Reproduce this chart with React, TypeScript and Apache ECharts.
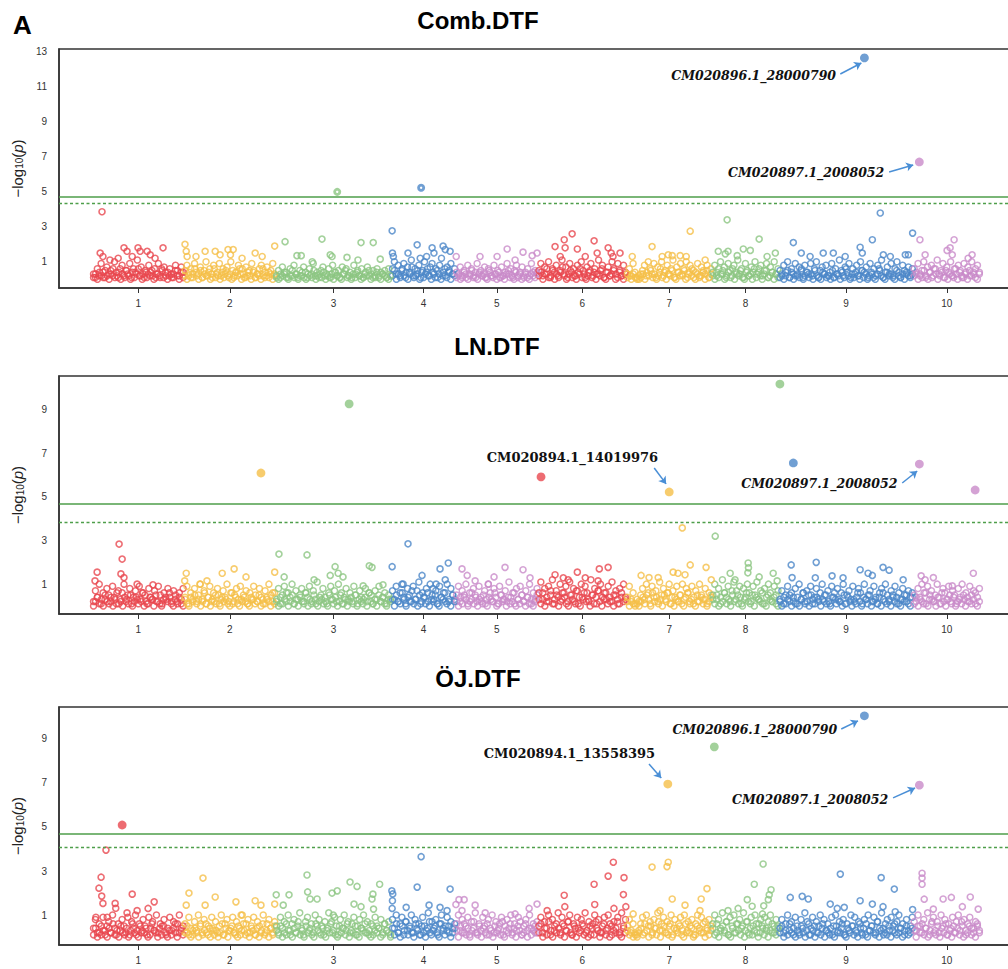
import React, { useEffect, useRef } from "react";
import * as echarts from "echarts";

// ---------- categories ----------
const chromosomes = ["1", "2", "3", "4", "5", "6", "7", "8", "9", "10"];
const chrLengthsMb = [30, 30, 38, 21, 27, 29, 28, 22, 44, 22];
const chrColors = ["#E8474F", "#F5BF48", "#8CC582", "#4C87C8", "#C98BC9", "#E8474F", "#F5BF48", "#8CC582", "#4C87C8", "#C98BC9"];

const panelTitles = ["Comb.DTF", "LN.DTF", "ÖJ.DTF"];
const significanceLine = 4.7;
const suggestiveLines = [4.37, 3.85, 4.09];
const yTickLabels = [[1, 3, 5, 7, 9, 11, 13], [1, 3, 5, 7, 9], [1, 3, 5, 7, 9]];

// ---------- Comb.DTF ----------
// dense low band: -log10(p) per chromosome, SNPs spread along the chromosome
const combBand = [
  [0.3,0.1,0.6,0.2,0.9,0.4,0.1,0.7,0.3,0.5,0.2,1.0,0.4,0.1,0.6,0.8,0.2,0.5,0.3,0.9,0.1,0.6,0.4,1.1,0.2,0.7,0.3,0.5,0.1,0.8,0.4,0.2,0.6,0.3,0.9,0.1,0.5,0.7,0.2,0.4,0.6,0.1,0.3,0.8,0.5,0.2,0.7,0.4],
  [0.5,0.8,0.2,0.6,0.1,0.9,0.4,0.3,0.7,0.1,0.5,1.0,0.2,0.6,0.3,0.8,0.1,0.4,0.9,0.2,0.6,0.3,0.7,0.1,1.0,0.5,0.2,0.4,0.8,0.3,0.6,0.1,0.7,0.4,0.2,0.9,0.5,0.1,0.3,0.6,0.8,0.2,0.4,0.7,0.1,0.5,0.9,0.3],
  [0.2,0.5,0.1,0.7,0.3,0.4,0.1,0.6,0.2,0.8,0.3,0.1,0.5,0.2,0.7,0.4,0.1,0.6,0.3,0.9,0.2,0.4,0.1,0.5,0.7,0.2,0.3,0.6,0.1,0.8,0.4,0.2,0.5,0.1,0.7,0.3,0.6,0.2,0.4,0.1,0.8,0.3,0.5,0.2,0.6,0.1,0.4,0.7,0.2,0.3,0.5,0.1,0.6,0.2,0.4,0.3,0.5,0.1,0.6,0.2],
  [0.6,1.0,0.3,0.8,0.2,0.5,0.9,0.1,0.7,0.4,1.1,0.2,0.6,0.3,0.8,0.1,0.5,1.0,0.4,0.2,0.7,0.9,0.3,0.6,0.1,0.8,1.2,0.4,0.2,0.7,0.5,0.9,0.3,0.6],
  [0.4,0.2,0.7,0.1,0.5,0.3,0.8,0.2,0.6,0.1,0.4,0.9,0.3,0.5,0.2,0.7,0.1,0.6,0.4,0.2,0.8,0.3,0.5,0.1,0.7,0.2,0.4,0.9,0.3,0.6,0.1,0.5,0.8,0.2,0.4,0.7,0.1,0.3,0.6,0.2,0.9,0.4,0.5,0.3],
  [0.5,0.9,0.2,0.7,0.3,1.0,0.1,0.6,0.4,0.8,0.2,0.5,1.1,0.3,0.7,0.1,0.9,0.4,0.6,0.2,0.8,0.3,1.0,0.5,0.1,0.7,0.4,0.9,0.2,0.6,0.3,1.1,0.5,0.8,0.1,0.4,0.7,0.2,1.0,0.6,0.3,0.9,0.5,0.2,0.8,0.4],
  [0.3,0.6,0.2,0.9,0.4,0.1,0.2,0.3,0.5,0.8,0.2,1.0,0.6,0.3,0.9,0.1,0.7,0.4,1.0,0.2,0.5,0.8,0.3,0.6,1.1,0.1,0.7,0.4,0.9,0.2,0.5,1.0,0.3,0.8,0.6,0.1,0.4,0.9,0.2,0.7,0.5,0.3,0.8,0.1,0.6],
  [0.4,0.8,0.2,0.6,1.0,0.3,0.7,0.1,0.9,0.5,0.2,0.8,0.4,1.1,0.3,0.6,0.1,0.9,0.5,0.2,0.7,0.4,1.0,0.3,0.6,0.8,0.2,0.5,0.9,0.1,0.7,0.4,1.0,0.3,0.6],
  [0.5,0.2,0.8,0.4,1.0,0.1,0.6,0.3,0.9,0.2,0.7,0.5,0.1,0.8,0.4,0.3,0.9,0.2,0.6,1.0,0.1,0.5,0.7,0.3,0.8,0.2,0.4,0.9,0.1,0.6,0.3,1.1,0.5,0.2,0.7,0.4,0.9,0.1,0.6,0.3,0.8,0.2,1.0,0.5,0.4,0.7,0.1,0.9,0.3,0.6,0.2,0.8,0.5,1.1,0.1,0.4,0.7,0.3,0.9,0.2,0.6,1.0,0.4,0.1,0.8,0.5,0.3,0.7,0.2,0.6],
  [0.6,0.3,0.9,0.2,0.5,1.0,0.1,0.7,0.4,0.8,0.2,0.6,1.1,0.3,0.5,0.9,0.1,0.7,0.4,1.0,0.2,0.6,0.3,0.8,0.5,0.1,0.9,0.4,0.7,0.2,1.0,0.3,0.6,0.8,0.4],
];
const combBandLow = [
  [0.1,0.3,0.0,0.4,0.2,0.1,0.5,0.2,0.0,0.3,0.6,0.1,0.2,0.4,0.0,0.3,0.1,0.5,0.2,0.0,0.4,0.1,0.3,0.6,0.2,0.0,0.1,0.4,0.3,0.2,0.5,0.0,0.1,0.3,0.2,0.6,0.1,0.4,0.0,0.2,0.3,0.1,0.5,0.2,0.0,0.4,0.1],
  [0.2,0.0,0.4,0.1,0.3,0.6,0.2,0.0,0.5,0.1,0.3,0.2,0.4,0.0,0.1,0.6,0.3,0.2,0.0,0.4,0.1,0.5,0.2,0.3,0.0,0.1,0.4,0.2,0.6,0.0,0.3,0.1,0.2,0.5,0.0,0.4,0.1,0.3,0.2,0.0,0.6,0.1,0.2,0.4,0.3,0.0,0.2],
  [0.1,0.0,0.3,0.2,0.4,0.1,0.0,0.2,0.5,0.1,0.3,0.0,0.2,0.4,0.1,0.0,0.3,0.2,0.1,0.5,0.0,0.2,0.3,0.1,0.4,0.0,0.2,0.1,0.3,0.0,0.4,0.2,0.1,0.0,0.3,0.5,0.1,0.2,0.0,0.3,0.1,0.4,0.2,0.0,0.1,0.3,0.2,0.5,0.0,0.1,0.2,0.4,0.1,0.0,0.3,0.2,0.1,0.0,0.2],
  [0.2,0.5,0.0,0.3,0.1,0.6,0.2,0.4,0.0,0.3,0.7,0.1,0.2,0.5,0.0,0.4,0.1,0.3,0.6,0.2,0.0,0.4,0.1,0.5,0.3,0.0,0.2,0.6,0.1,0.4,0.0,0.3,0.2],
  [0.1,0.3,0.0,0.2,0.4,0.1,0.0,0.3,0.5,0.2,0.1,0.0,0.4,0.2,0.3,0.1,0.0,0.5,0.2,0.1,0.3,0.0,0.4,0.1,0.2,0.0,0.3,0.5,0.1,0.2,0.0,0.4,0.1,0.3,0.0,0.2,0.4,0.1,0.0,0.3,0.2,0.1,0.4],
  [0.2,0.4,0.0,0.3,0.6,0.1,0.2,0.5,0.0,0.3,0.1,0.4,0.7,0.2,0.0,0.3,0.5,0.1,0.2,0.0,0.4,0.6,0.1,0.3,0.0,0.2,0.5,0.1,0.4,0.0,0.3,0.2,0.6,0.1,0.0,0.4,0.2,0.3,0.5,0.0,0.1,0.4,0.2,0.0,0.3],
  [0.1,0.2,0.0,0.3,0.1,0.0,0.0,0.1,0.3,0.0,0.4,0.2,0.5,0.1,0.3,0.0,0.2,0.6,0.1,0.4,0.0,0.3,0.2,0.5,0.1,0.0,0.4,0.2,0.3,0.6,0.0,0.1,0.4,0.2,0.5,0.0,0.3,0.1,0.2,0.4,0.0,0.5,0.1,0.3],
  [0.2,0.0,0.4,0.1,0.3,0.5,0.0,0.2,0.4,0.1,0.6,0.0,0.3,0.2,0.5,0.1,0.0,0.4,0.2,0.3,0.0,0.6,0.1,0.4,0.2,0.0,0.3,0.5,0.1,0.2,0.4,0.0,0.3,0.1],
  [0.1,0.3,0.0,0.2,0.5,0.1,0.4,0.0,0.2,0.3,0.1,0.6,0.0,0.2,0.4,0.1,0.3,0.0,0.5,0.2,0.1,0.0,0.4,0.3,0.1,0.2,0.0,0.5,0.1,0.3,0.2,0.0,0.4,0.1,0.6,0.2,0.0,0.3,0.1,0.4,0.2,0.0,0.5,0.1,0.3,0.0,0.2,0.4,0.1,0.0,0.3,0.6,0.2,0.1,0.0,0.4,0.2,0.3,0.1,0.0,0.5,0.2,0.1,0.3,0.0,0.4,0.2,0.1,0.3],
  [0.2,0.4,0.0,0.3,0.1,0.5,0.2,0.0,0.4,0.1,0.6,0.3,0.0,0.2,0.4,0.1,0.5,0.0,0.3,0.2,0.1,0.6,0.0,0.4,0.2,0.1,0.3,0.0,0.5,0.2,0.4,0.1,0.0,0.3],
];
// [chromosome, position (Mb), -log10(p)]
const combPeaks = [
  [1,2.5,1.5],[1,3.1,3.86],[1,3.4,1.3],[1,5.7,1.1],[1,8.4,1.2],[1,10.3,1.8],[1,11.3,1.6],[1,13.0,1.3],[1,14.9,1.8],[1,15.6,1.6],[1,17.9,1.6],[1,18.9,1.4],[1,20.5,1.2],[1,23.1,1.8],
  [2,0.3,2.0],[2,0.7,1.6],[2,1.0,1.3],[2,3.9,1.3],[2,6.9,1.6],[2,10.2,1.6],[2,11.8,1.4],[2,14.4,1.7],[2,15.2,1.4],[2,16.1,1.7],[2,19.0,1.2],[2,23.3,1.5],[2,25.6,1.3],[2,29.7,1.9],
  [3,3.1,2.15],[3,7.0,1.35],[3,8.4,1.35],[3,12.0,1.0],[3,15.2,2.3],[3,17.9,1.4],[3,18.5,1.3],[3,23.4,1.25],[3,27.0,1.1],[3,28.0,2.1],[3,32.0,2.1],[3,34.3,1.15],
  [4,0.2,2.77],[4,0.3,1.5],[4,0.6,1.3],[4,5.4,1.5],[4,8.4,1.97],[4,9.4,1.2],[4,11.5,1.3],[4,13.3,1.8],[4,13.9,1.5],[4,16.9,1.9],[4,17.6,1.7],[4,19.2,1.6],
  [5,0.2,1.3],[5,8.0,1.3],[5,13.6,1.3],[5,16.9,1.73],[5,19.5,1.1],[5,22.1,1.55],[5,25.1,1.35],[5,26.7,1.5],
  [6,5.6,1.87],[6,7.3,1.3],[6,8.6,2.26],[6,8.9,1.8],[6,11.2,2.6],[6,12.9,1.73],[6,15.5,1.3],[6,18.4,2.2],[6,19.4,1.5],[6,23.0,1.8],[6,24.0,1.5],[6,24.6,1.3],[6,26.9,1.5],
  [7,1.9,1.3],[7,8.4,1.87],[7,11.7,1.3],[7,13.7,1.4],[7,15.0,1.35],[7,17.6,1.35],[7,19.6,1.3],[7,20.9,2.75],[7,25.8,1.1],
  [8,2.1,1.6],[8,4.4,1.45],[8,5.0,3.4],[8,5.3,1.6],[8,8.3,1.35],[8,10.3,1.73],[8,12.6,1.65],[8,15.5,2.3],[8,18.1,1.3],[8,20.8,1.5],
  [9,4.7,2.1],[9,7.3,1.5],[9,10.2,1.3],[9,14.5,1.5],[9,17.8,1.5],[9,21.7,1.3],[9,26.6,1.83],[9,27.3,1.5],[9,30.6,2.26],[9,33.2,3.79],[9,34.2,1.4],[9,36.5,1.3],[9,41.4,1.4],[9,42.4,1.4],[9,43.8,2.64],
  [10,2.2,2.26],[10,3.9,1.4],[10,11.1,1.65],[10,12.1,1.8],[10,12.8,1.4],[10,13.4,2.26],[10,18.0,1.2],[10,19.3,1.4],
];
const combBoldRings = [[3,20.2,5.0],[4,9.7,5.23]];
const combHits = [[9,28.0,12.66],[10,2.0,6.71]];

// ---------- LN.DTF ----------
const lnBand = [
  [0.2,0.7,0.4,1.0,0.1,0.6,0.3,0.8,0.5,0.2,0.9,0.4,0.1,0.7,0.3,0.6,1.0,0.2,0.5,0.8,0.1,0.4,0.7,0.3,0.9,0.2,0.6,0.5,0.1,0.8,0.4,0.3,0.7,0.2,0.9,0.5,0.1,0.6,0.3,0.8,0.4,0.2,0.7,0.5,0.1,0.6,0.3,0.8],
  [0.4,0.9,0.1,0.6,0.3,0.8,0.2,0.5,1.0,0.3,0.7,0.1,0.4,0.9,0.2,0.6,0.5,0.8,0.1,0.3,0.7,0.4,1.0,0.2,0.6,0.1,0.5,0.8,0.3,0.9,0.2,0.4,0.7,0.1,0.6,0.3,0.9,0.5,0.2,0.8,0.4,0.1,0.7,0.3,1.0,0.5,0.2,0.6],
  [0.3,0.8,0.1,0.5,0.9,0.2,0.6,0.4,1.0,0.1,0.7,0.3,0.5,0.8,0.2,0.6,0.4,0.9,0.1,0.7,0.3,1.1,0.2,0.5,0.8,0.4,0.1,0.6,0.9,0.3,0.7,0.2,1.0,0.5,0.1,0.4,0.8,0.3,0.6,0.2,0.9,0.5,0.1,0.7,0.4,0.3,0.8,0.2,0.6,0.5,0.1,0.7,0.3,0.9,0.2,0.4,0.6,0.1,0.5,0.3],
  [0.7,0.3,0.9,0.2,0.6,1.0,0.4,0.1,0.8,0.5,0.2,0.9,0.3,0.7,1.1,0.1,0.6,0.4,0.8,0.2,1.0,0.5,0.3,0.7,0.1,0.9,0.4,0.6,0.2,1.0,0.3,0.8,0.5,0.2],
  [0.5,0.9,0.2,0.7,0.4,1.0,0.1,0.6,0.3,0.8,0.5,0.2,0.9,0.4,0.1,0.7,0.3,1.0,0.6,0.2,0.8,0.4,0.1,0.9,0.5,0.3,0.7,0.2,1.1,0.4,0.6,0.1,0.8,0.3,0.9,0.5,0.2,0.7,0.4,1.0,0.1,0.6,0.3,0.8],
  [0.6,1.1,0.3,0.8,0.2,0.9,0.5,1.2,0.1,0.7,0.4,1.0,0.3,0.6,0.9,0.2,1.1,0.5,0.8,0.1,0.7,0.4,1.0,0.3,0.9,0.6,0.2,1.2,0.5,0.8,0.1,0.7,1.0,0.4,0.6,0.3,0.9,0.2,1.1,0.5,0.7,0.1,0.8,0.4,1.0,0.3],
  [0.4,0.9,0.2,0.6,0.1,0.3,0.2,0.5,0.8,0.3,1.0,0.6,0.1,0.9,0.4,0.7,0.2,1.1,0.5,0.8,0.3,0.6,1.0,0.1,0.7,0.4,0.9,0.2,0.5,1.0,0.3,0.8,0.6,0.1,0.9,0.4,0.7,0.2,1.0,0.5,0.3,0.8,0.1,0.6,0.4],
  [0.5,1.0,0.3,0.8,0.1,1.2,0.6,0.4,0.9,0.2,0.7,1.1,0.3,0.5,0.9,0.1,0.8,0.4,1.0,0.6,0.2,0.9,0.5,1.1,0.3,0.7,0.1,0.8,0.4,1.0,0.6,0.2,0.9,0.5,0.7],
  [0.3,0.7,0.1,0.5,0.9,0.2,0.6,0.4,0.8,0.1,1.0,0.3,0.6,0.2,0.7,0.5,0.9,0.1,0.4,0.8,0.3,0.6,1.0,0.2,0.5,0.7,0.1,0.9,0.4,0.3,0.8,0.2,0.6,1.0,0.1,0.5,0.7,0.3,0.9,0.2,0.4,0.8,0.6,0.1,1.0,0.3,0.5,0.7,0.2,0.9,0.4,0.1,0.6,0.8,0.3,1.0,0.5,0.2,0.7,0.4,0.9,0.1,0.6,0.3,0.8,0.5,0.2,0.7,0.4,0.6],
  [0.5,0.2,0.8,0.4,1.0,0.1,0.6,0.9,0.3,0.7,0.2,0.5,1.0,0.4,0.1,0.8,0.6,0.3,0.9,0.2,0.7,0.5,0.1,0.8,0.4,1.0,0.3,0.6,0.2,0.9,0.5,0.7,0.1,0.4,0.8],
];
const lnBandLow = [
  [0.0,0.2,0.4,0.1,0.3,0.0,0.5,0.2,0.1,0.4,0.0,0.3,0.6,0.1,0.2,0.0,0.4,0.3,0.1,0.5,0.0,0.2,0.4,0.1,0.3,0.6,0.0,0.2,0.1,0.4,0.3,0.0,0.5,0.2,0.1,0.0,0.3,0.4,0.2,0.6,0.1,0.0,0.3,0.2,0.4,0.1,0.0],
  [0.3,0.1,0.0,0.4,0.2,0.5,0.1,0.3,0.0,0.2,0.6,0.1,0.4,0.0,0.3,0.2,0.1,0.5,0.0,0.4,0.2,0.3,0.1,0.0,0.6,0.2,0.4,0.1,0.0,0.3,0.5,0.2,0.1,0.0,0.4,0.3,0.1,0.2,0.5,0.0,0.3,0.1,0.4,0.2,0.0,0.6,0.1],
  [0.2,0.0,0.4,0.1,0.3,0.6,0.0,0.2,0.5,0.1,0.3,0.0,0.4,0.2,0.1,0.6,0.0,0.3,0.2,0.5,0.1,0.0,0.4,0.3,0.1,0.2,0.0,0.5,0.3,0.1,0.4,0.0,0.2,0.6,0.1,0.3,0.0,0.2,0.4,0.1,0.5,0.0,0.3,0.2,0.1,0.4,0.0,0.6,0.2,0.1,0.3,0.0,0.5,0.2,0.4,0.1,0.0,0.3,0.2],
  [0.3,0.0,0.5,0.2,0.1,0.6,0.3,0.0,0.4,0.2,0.7,0.1,0.3,0.0,0.5,0.2,0.4,0.1,0.6,0.0,0.3,0.2,0.5,0.1,0.0,0.4,0.3,0.6,0.1,0.2,0.0,0.5,0.3],
  [0.2,0.0,0.4,0.1,0.5,0.3,0.0,0.2,0.6,0.1,0.4,0.0,0.3,0.2,0.5,0.1,0.0,0.4,0.3,0.2,0.6,0.0,0.1,0.5,0.2,0.3,0.0,0.4,0.1,0.2,0.6,0.0,0.3,0.1,0.5,0.2,0.0,0.4,0.1,0.3,0.0,0.2,0.5],
  [0.3,0.1,0.6,0.0,0.4,0.2,0.7,0.1,0.3,0.5,0.0,0.2,0.6,0.4,0.1,0.0,0.5,0.3,0.2,0.7,0.1,0.0,0.4,0.6,0.2,0.3,0.0,0.5,0.1,0.4,0.7,0.2,0.0,0.3,0.6,0.1,0.4,0.2,0.0,0.5,0.3,0.1,0.6,0.2,0.4],
  [0.2,0.0,0.3,0.1,0.0,0.1,0.0,0.2,0.4,0.1,0.5,0.3,0.0,0.6,0.2,0.4,0.1,0.3,0.0,0.5,0.2,0.6,0.1,0.4,0.0,0.3,0.2,0.5,0.1,0.0,0.4,0.6,0.2,0.3,0.1,0.0,0.5,0.2,0.4,0.1,0.3,0.0,0.2,0.5],
  [0.3,0.1,0.5,0.0,0.4,0.2,0.6,0.1,0.3,0.0,0.5,0.2,0.7,0.1,0.4,0.0,0.3,0.6,0.2,0.1,0.5,0.0,0.4,0.3,0.2,0.6,0.1,0.0,0.5,0.3,0.2,0.4,0.1,0.0],
  [0.2,0.0,0.4,0.1,0.3,0.5,0.0,0.2,0.1,0.4,0.0,0.3,0.6,0.1,0.2,0.0,0.5,0.3,0.1,0.4,0.2,0.0,0.3,0.5,0.1,0.2,0.0,0.4,0.6,0.1,0.3,0.2,0.0,0.5,0.1,0.4,0.2,0.0,0.3,0.1,0.6,0.2,0.0,0.4,0.3,0.1,0.5,0.0,0.2,0.3,0.1,0.4,0.0,0.6,0.2,0.1,0.3,0.0,0.5,0.2,0.4,0.1,0.0,0.3,0.2,0.5,0.1,0.0,0.4],
  [0.1,0.4,0.0,0.3,0.2,0.6,0.1,0.0,0.5,0.3,0.2,0.0,0.4,0.1,0.6,0.2,0.0,0.3,0.5,0.1,0.4,0.0,0.2,0.3,0.1,0.5,0.0,0.4,0.2,0.1,0.3,0.6,0.0,0.2],
];
const lnPeaks = [
  [1,0.8,1.15],[1,1.5,1.55],[1,8.7,2.84],[1,9.3,1.47],[1,9.7,2.15],[1,10.3,1.3],[1,14.6,1.0],[1,19.8,0.97],
  [2,0.2,1.15],[2,0.7,1.5],[2,5.2,1.0],[2,7.5,1.15],[2,12.5,1.5],[2,16.4,1.7],[2,20.3,1.33],[2,29.7,1.55],
  [3,1.1,2.38],[3,2.8,1.33],[3,10.3,2.34],[3,12.6,1.2],[3,17.9,1.4],[3,19.5,1.8],[3,20.5,1.5],[3,22.1,1.33],[3,28.7,0.92],[3,30.7,1.84],[3,31.6,1.77],[3,35.2,0.97],
  [4,0.2,1.8],[4,3.8,1.0],[4,5.4,2.85],[4,10.0,1.4],[4,13.6,0.8],[4,14.6,1.0],[4,15.9,1.7],[4,17.6,1.2],[4,18.6,1.97],
  [5,2.1,1.7],[5,3.8,1.4],[5,6.4,1.15],[5,10.7,1.0],[5,12.6,1.33],[5,16.2,1.77],[5,22.1,1.66],[5,24.4,1.29],
  [6,5.6,1.43],[6,8.3,1.29],[6,9.9,1.2],[6,12.9,1.55],[6,15.5,1.29],[6,19.7,1.15],[6,20.1,1.7],[6,23.0,1.77],
  [7,4.8,1.4],[7,7.4,1.3],[7,10.4,1.3],[7,15.3,1.55],[7,16.9,1.5],[7,18.3,3.58],[7,19.2,1.43],[7,20.9,1.88],[7,26.1,1.77],[7,27.8,1.2],
  [8,1.1,3.2],[8,6.0,1.5],[8,7.6,1.2],[8,11.8,1.52],[8,11.9,1.97],[8,12.0,1.75],[8,15.5,1.33],[8,20.1,1.5],[8,21.4,1.15],
  [9,4.0,1.88],[9,4.3,1.3],[9,11.9,1.29],[9,12.2,2.0],[9,17.4,1.38],[9,21.0,1.29],[9,26.6,1.66],[9,29.2,1.5],[9,30.6,1.4],[9,34.1,1.77],[9,36.1,1.64],[9,40.7,1.2],
  [10,2.6,1.38],[10,3.9,1.2],[10,6.6,1.3],[10,12.8,0.92],[10,19.7,1.5],
];
const lnHits = [[2,25.2,6.1],[3,24.1,9.27],[6,1.0,5.92],[7,14.02,5.23],[8,22.3,10.18],[9,4.7,6.56],[10,2.01,6.51],[10,20.3,5.32]];

// ---------- ÖJ.DTF ----------
const ojBand = [
  [0.4,0.8,0.2,0.6,0.1,0.9,0.3,0.5,0.7,0.2,1.0,0.4,0.1,0.6,0.3,0.8,0.5,0.2,0.9,0.1,0.7,0.4,1.0,0.3,0.6,0.2,0.8,0.5,0.1,0.9,0.4,0.7,0.3,1.0,0.2,0.6,0.5,0.8,0.1,0.4,0.9,0.3,0.7,0.2,0.6,1.0,0.4,0.5],
  [0.6,0.2,0.9,0.4,0.1,0.7,0.3,1.0,0.5,0.2,0.8,0.6,0.1,0.4,0.9,0.3,0.7,0.2,0.5,1.0,0.1,0.6,0.8,0.3,0.4,0.9,0.2,0.7,0.5,0.1,1.0,0.3,0.6,0.8,0.2,0.4,0.9,0.1,0.7,0.5,0.3,1.0,0.2,0.6,0.8,0.4,0.1,0.7],
  [0.5,0.2,0.9,0.4,0.7,0.1,1.0,0.3,0.6,0.8,0.2,0.5,1.1,0.4,0.1,0.7,0.9,0.3,0.6,0.2,1.0,0.5,0.8,0.1,0.4,0.7,0.3,1.1,0.6,0.2,0.9,0.5,0.1,0.8,0.4,1.0,0.3,0.7,0.2,0.6,0.9,0.1,0.5,0.8,0.4,1.0,0.2,0.7,0.3,0.6,0.1,0.9,0.5,0.4,0.8,0.2,0.6,0.3,0.7,0.1],
  [0.8,0.4,1.0,0.2,0.6,0.9,0.1,0.7,0.3,0.5,1.0,0.2,0.8,0.4,0.6,0.1,0.9,0.5,0.3,1.1,0.2,0.7,0.4,0.8,0.1,0.6,1.0,0.3,0.5,0.9,0.2,0.7,0.4,0.6],
  [0.6,1.0,0.3,0.8,0.2,0.5,0.9,0.1,0.7,0.4,1.1,0.2,0.6,0.3,0.9,0.5,0.1,0.8,0.4,1.0,0.2,0.7,0.3,0.6,0.9,0.1,0.5,0.8,0.4,1.0,0.2,0.6,0.3,0.9,0.7,0.1,0.5,0.8,0.3,1.0,0.4,0.6,0.2,0.7],
  [0.5,0.9,0.2,0.7,0.4,1.0,0.1,0.8,0.3,0.6,1.1,0.2,0.9,0.5,0.3,0.7,1.0,0.1,0.6,0.4,0.9,0.2,0.8,0.5,1.1,0.3,0.7,0.1,0.6,1.0,0.4,0.8,0.2,0.5,0.9,0.3,1.0,0.6,0.1,0.7,0.4,0.9,0.2,1.1,0.5,0.8],
  [0.5,0.8,0.3,0.6,0.2,0.1,0.3,0.6,0.9,0.2,1.0,0.5,0.7,0.1,0.8,0.4,1.1,0.3,0.6,0.9,0.2,0.7,0.5,1.0,0.1,0.8,0.4,0.6,0.9,0.3,1.0,0.2,0.7,0.5,0.8,0.1,0.6,1.0,0.4,0.9,0.2,0.7,0.3,0.8,0.5],
  [0.6,1.0,0.2,0.8,0.4,1.1,0.3,0.7,0.1,0.9,0.5,1.0,0.2,0.6,0.8,0.4,1.1,0.3,0.7,0.1,0.9,0.5,1.0,0.2,0.6,0.8,0.4,0.9,0.3,0.7,1.0,0.2,0.5,0.8,0.4],
  [0.4,0.8,0.2,0.6,1.0,0.3,0.7,0.1,0.9,0.5,0.2,0.8,0.4,1.1,0.3,0.6,0.1,0.9,0.5,0.7,0.2,1.0,0.4,0.8,0.3,0.6,0.1,0.9,0.5,1.0,0.2,0.7,0.4,0.8,0.1,0.6,0.3,1.0,0.5,0.9,0.2,0.7,0.4,0.1,0.8,0.6,1.0,0.3,0.5,0.9,0.2,0.7,0.4,1.1,0.1,0.6,0.8,0.3,0.9,0.5,0.2,0.7,1.0,0.4,0.6,0.1,0.8,0.3,0.5,0.9],
  [0.7,0.3,1.0,0.5,0.2,0.8,0.4,1.1,0.1,0.6,0.9,0.3,0.7,0.2,1.0,0.5,0.8,0.1,0.6,0.4,0.9,0.2,0.7,1.0,0.3,0.5,0.8,0.1,0.6,0.9,0.4,0.2,0.7,0.5,0.3],
];
const ojBandLow = [
  [0.1,0.4,0.0,0.2,0.5,0.3,0.1,0.0,0.4,0.2,0.6,0.1,0.3,0.0,0.5,0.2,0.1,0.4,0.0,0.3,0.6,0.2,0.1,0.0,0.5,0.3,0.2,0.4,0.0,0.1,0.6,0.3,0.2,0.0,0.4,0.1,0.5,0.2,0.0,0.3,0.1,0.4,0.6,0.0,0.2,0.3,0.1],
  [0.2,0.5,0.1,0.0,0.3,0.4,0.2,0.0,0.6,0.1,0.3,0.2,0.5,0.0,0.4,0.1,0.3,0.0,0.2,0.6,0.1,0.4,0.0,0.3,0.5,0.2,0.1,0.0,0.4,0.3,0.6,0.1,0.2,0.0,0.5,0.3,0.1,0.4,0.0,0.2,0.6,0.1,0.3,0.0,0.4,0.2,0.5],
  [0.3,0.1,0.5,0.0,0.2,0.6,0.3,0.1,0.0,0.4,0.2,0.7,0.1,0.3,0.0,0.5,0.2,0.4,0.1,0.0,0.6,0.3,0.2,0.5,0.1,0.0,0.4,0.2,0.7,0.3,0.1,0.0,0.5,0.2,0.4,0.1,0.6,0.0,0.3,0.2,0.5,0.1,0.0,0.4,0.3,0.6,0.2,0.1,0.0,0.5,0.3,0.2,0.4,0.0,0.1,0.6,0.3,0.2,0.0],
  [0.4,0.1,0.6,0.2,0.0,0.5,0.3,0.7,0.1,0.4,0.2,0.0,0.6,0.3,0.1,0.5,0.2,0.0,0.4,0.7,0.1,0.3,0.5,0.2,0.0,0.6,0.4,0.1,0.3,0.5,0.0,0.2,0.4],
  [0.3,0.0,0.5,0.2,0.6,0.1,0.4,0.0,0.3,0.7,0.2,0.1,0.5,0.0,0.4,0.2,0.6,0.1,0.3,0.0,0.5,0.2,0.4,0.1,0.7,0.0,0.3,0.2,0.6,0.1,0.4,0.0,0.5,0.3,0.1,0.2,0.6,0.0,0.4,0.1,0.3,0.5,0.2],
  [0.2,0.6,0.0,0.4,0.1,0.7,0.3,0.0,0.5,0.2,0.4,0.1,0.6,0.0,0.3,0.7,0.2,0.1,0.5,0.0,0.4,0.3,0.6,0.1,0.2,0.0,0.5,0.4,0.1,0.7,0.3,0.0,0.2,0.6,0.1,0.4,0.0,0.5,0.3,0.2,0.7,0.1,0.0,0.4,0.2],
  [0.3,0.1,0.2,0.0,0.1,0.0,0.2,0.4,0.1,0.6,0.3,0.0,0.5,0.2,0.4,0.1,0.7,0.0,0.3,0.5,0.2,0.1,0.6,0.0,0.4,0.3,0.2,0.5,0.1,0.0,0.6,0.3,0.2,0.4,0.0,0.1,0.5,0.3,0.2,0.6,0.0,0.4,0.1,0.3],
  [0.4,0.1,0.6,0.0,0.3,0.5,0.2,0.7,0.1,0.0,0.4,0.2,0.6,0.3,0.1,0.5,0.0,0.7,0.2,0.4,0.1,0.3,0.6,0.0,0.2,0.5,0.1,0.4,0.0,0.3,0.6,0.2,0.1,0.5],
  [0.2,0.5,0.0,0.3,0.1,0.6,0.2,0.4,0.0,0.3,0.1,0.5,0.2,0.0,0.7,0.1,0.4,0.3,0.0,0.2,0.5,0.1,0.6,0.0,0.3,0.2,0.4,0.1,0.0,0.5,0.3,0.2,0.6,0.1,0.0,0.4,0.2,0.5,0.1,0.3,0.0,0.6,0.2,0.4,0.1,0.0,0.3,0.5,0.2,0.1,0.7,0.0,0.3,0.4,0.2,0.1,0.5,0.0,0.3,0.6,0.1,0.2,0.4,0.0,0.3,0.5,0.1,0.2,0.4],
  [0.3,0.0,0.5,0.2,0.6,0.1,0.4,0.0,0.3,0.7,0.2,0.1,0.5,0.0,0.4,0.2,0.6,0.1,0.3,0.0,0.5,0.2,0.4,0.1,0.7,0.0,0.3,0.2,0.5,0.1,0.4,0.0,0.6,0.2],
];
const ojPeaks = [
  [1,1.1,0.9],[1,2.1,2.22],[1,2.8,2.72],[1,3.0,1.86],[1,3.4,1.53],[1,4.4,3.95],[1,4.8,0.9],[1,7.4,1.53],[1,7.6,1.31],[1,11.3,1.1],[1,13.0,1.95],[1,14.6,1.2],[1,18.2,1.3],[1,20.2,1.6],
  [2,0.7,1.45],[2,1.6,2.0],[2,6.2,2.68],[2,6.9,1.45],[2,10.2,1.82],[2,17.0,1.6],[2,18.7,1.0],[2,23.3,1.65],[2,25.2,1.45],[2,29.7,1.5],
  [3,0.2,1.92],[3,2.5,1.45],[3,4.4,1.92],[3,10.3,2.82],[3,10.5,2.05],[3,11.3,1.73],[3,13.6,1.73],[3,18.5,2.0],[3,18.9,1.0],[3,20.2,2.1],[3,24.4,2.5],[3,25.7,1.5],[3,26.7,2.3],[3,28.0,1.38],[3,31.6,1.73],[3,31.9,1.95],[3,32.1,1.27],[3,34.1,2.4],
  [4,0.1,2.1],[4,0.2,1.3],[4,0.3,1.65],[4,0.4,1.96],[4,4.8,1.35],[4,8.4,2.27],[4,9.7,3.65],[4,12.3,1.45],[4,15.9,1.35],[4,18.2,1.2],[4,19.2,2.18],
  [5,0.1,1.48],[5,1.1,1.7],[5,2.1,1.2],[5,2.8,1.7],[5,6.4,1.45],[5,9.7,1.1],[5,19.5,1.05],[5,24.1,1.3],[5,26.7,1.5],
  [6,3.0,1.2],[6,8.6,1.9],[6,8.8,1.38],[6,18.4,2.4],[6,18.6,1.48],[6,23.0,2.77],[6,24.7,3.4],[6,24.9,1.3],[6,28.0,1.93],[6,28.2,2.7],[6,28.8,1.38],
  [7,2.2,1.05],[7,8.4,3.18],[7,11.0,1.2],[7,13.3,3.2],[7,13.7,3.4],[7,15.0,1.73],[7,19.2,1.45],[7,24.1,1.2],[7,24.5,1.73],[7,26.4,2.2],
  [8,5.3,1.2],[8,8.6,1.3],[8,11.6,1.7],[8,13.2,1.4],[8,13.9,2.4],[8,16.6,1.05],[8,16.8,3.32],[8,17.0,1.42],[8,18.5,1.7],[8,18.8,1.92],[8,19.4,2.15],
  [9,3.7,1.8],[9,7.6,1.85],[9,9.6,1.73],[9,16.8,1.5],[9,19.1,1.3],[9,20.1,2.86],[9,21.4,1.35],[9,26.6,1.65],[9,30.6,1.5],[9,33.5,2.7],[9,34.1,1.38],[9,37.8,2.18],[9,38.1,1.15],[9,43.8,1.25],
  [10,2.9,2.9],[10,2.9,2.68],[10,2.9,2.4],[10,3.6,1.72],[10,6.6,1.27],[10,9.8,1.73],[10,12.5,1.8],[10,16.1,1.38],[10,18.7,1.82],[10,21.3,1.27],
];
const ojHits = [[1,9.7,5.09],[7,13.56,6.95],[8,0.8,8.64],[9,28.0,10.05],[10,2.01,6.9]];

// ---------- annotated SNPs ----------
const combNoteLabels = ["CM020896.1_28000790", "CM020897.1_2008052"];
const lnNoteLabels = ["CM020894.1_14019976", "CM020897.1_2008052"];
const ojNoteLabels = ["CM020894.1_13558395", "CM020896.1_28000790", "CM020897.1_2008052"];

// layout of annotation text / arrows (genome Mb, -log10 p)
const noteLayouts = [
  [
    { italic: true, text: [243.7, 11.63], from: [245.1, 11.74], to: [252.0, 12.37] },
    { italic: true, text: [259.5, 6.09], from: [261.1, 6.14], to: [269.0, 6.54] },
  ],
  [
    { italic: false, text: [185.4, 6.79], from: [184.1, 6.33], to: [188.0, 5.6] },
    { italic: true, text: [263.8, 5.6], from: [265.4, 5.64], to: [270.3, 6.19] },
  ],
  [
    { italic: false, text: [184.4, 8.36], from: [182.4, 7.86], to: [186.4, 7.23] },
    { italic: true, text: [244.1, 9.45], from: [245.4, 9.45], to: [250.9, 9.82] },
    { italic: true, text: [260.8, 6.23], from: [262.4, 6.32], to: [269.6, 6.77] },
  ],
];

const chrStarts: number[] = [];
chrLengthsMb.reduce((acc, l) => {
  chrStarts.push(acc);
  return acc + l;
}, 0);
const chrCenters = chrStarts.map((s, i) => s + chrLengthsMb[i] / 2);

function bandData(band: number[][]) {
  const out: any[] = [];
  band.forEach((vals, c) => {
    const n = vals.length;
    vals.forEach((v, i) => {
      out.push({
        value: [chrStarts[c] + ((i + 0.5) * chrLengthsMb[c]) / n, v],
        itemStyle: { borderColor: chrColors[c] },
      });
    });
  });
  return out;
}
function ringData(list: number[][]) {
  return list.map(([c, p, v]) => ({
    value: [chrStarts[c - 1] + p, v],
    itemStyle: { borderColor: chrColors[c - 1] },
  }));
}
function filledData(list: number[][]) {
  return list.map(([c, p, v]) => ({
    value: [chrStarts[c - 1] + p, v],
    itemStyle: { color: chrColors[c - 1] },
  }));
}

const panelLayout = [
  { top: 49, height: 239, yMin: -0.5, yMax: 13.17, titleX: 478, titleY: 20 },
  { top: 376, height: 238, yMin: -0.37, yMax: 10.55, titleX: 497, titleY: 346 },
  { top: 707, height: 238, yMin: -0.36, yMax: 10.45, titleX: 478, titleY: 678 },
];
const panelBands = [combBand, lnBand, ojBand];
const panelBandsLow = [combBandLow, lnBandLow, ojBandLow];
const panelPeaks = [combPeaks, lnPeaks, ojPeaks];
const panelHits = [combHits, lnHits, ojHits];
const panelNoteLabels = [combNoteLabels, lnNoteLabels, ojNoteLabels];

const SANS = "'Liberation Sans', Arial, sans-serif";

function buildOption() {
  const grid: any[] = [];
  const xAxis: any[] = [];
  const yAxis: any[] = [];
  const series: any[] = [];
  const graphic: any[] = [
    {
      type: "text",
      left: 13,
      top: 12,
      style: { text: "A", font: "bold 26px " + SANS, fill: "#000" },
    },
  ];

  panelLayout.forEach((L, i) => {
    grid.push({
      left: 59,
      top: L.top,
      width: 961,
      height: L.height,
      show: true,
      borderColor: "#333",
      borderWidth: 1.5,
      backgroundColor: "transparent",
    });
    xAxis.push({
      type: "value",
      gridIndex: i,
      min: -11,
      max: 304,
      axisLine: { show: true, onZero: false, lineStyle: { color: "#333", width: 1.5 } },
      axisTick: { show: true, customValues: chrCenters, length: 5, lineStyle: { color: "#333", width: 1 } },
      axisLabel: {
        customValues: chrCenters,
        fontSize: 10,
        color: "#333",
        margin: 10,
        fontFamily: SANS,
        formatter: (v: number) => {
          const idx = chrCenters.findIndex((c) => Math.abs(c - v) < 1e-6);
          return idx >= 0 ? chromosomes[idx] : "";
        },
      },
      splitLine: { show: false },
    });
    yAxis.push({
      type: "value",
      gridIndex: i,
      min: L.yMin,
      max: L.yMax,
      axisLine: { show: true, onZero: false, lineStyle: { color: "#333", width: 1.5 } },
      axisTick: { show: false },
      axisLabel: {
        customValues: yTickLabels[i],
        fontSize: 10,
        color: "#333",
        margin: 12,
        fontFamily: SANS,
      },
      splitLine: { show: false },
      name: "{a|\u2212log}{s|10}{a|(}{p|p}{a|)}",
      nameLocation: "middle",
      nameRotate: 90,
      nameGap: 34,
      nameTextStyle: {
        rich: {
          a: { fontSize: 15, color: "#222", fontFamily: SANS, lineHeight: 18, verticalAlign: "bottom" },
          s: { fontSize: 10, color: "#222", fontFamily: SANS, lineHeight: 13, verticalAlign: "bottom" },
          p: { fontSize: 15, color: "#222", fontStyle: "italic", fontFamily: SANS, lineHeight: 18, verticalAlign: "bottom" },
        },
      },
    });

    graphic.push({
      type: "text",
      x: L.titleX,
      y: L.titleY,
      style: {
        text: panelTitles[i],
        font: "bold 24px " + SANS,
        fill: "#000",
        align: "center",
        verticalAlign: "middle",
      },
    });

    // threshold lines + dense low band
    series.push({
      type: "scatter",
      xAxisIndex: i,
      yAxisIndex: i,
      silent: true,
      symbol: "circle",
      symbolSize: 6,
      itemStyle: { color: "rgba(0,0,0,0)", borderWidth: 1.5 },
      data: bandData(panelBandsLow[i]).concat(bandData(panelBands[i])),
      markLine: {
        silent: true,
        symbol: ["none", "none"],
        label: { show: false },
        data: [
          { yAxis: significanceLine, lineStyle: { color: "#4E9E4A", width: 1.5, type: "solid" } },
          { yAxis: suggestiveLines[i], lineStyle: { color: "#4E9E4A", width: 1.3, type: [3, 2.5] } },
        ],
      },
    });
    // scattered SNPs above the band
    series.push({
      type: "scatter",
      xAxisIndex: i,
      yAxisIndex: i,
      silent: true,
      symbol: "circle",
      symbolSize: 6,
      itemStyle: { color: "rgba(0,0,0,0)", borderWidth: 1.6 },
      data: ringData(panelPeaks[i]),
    });
    if (i === 0) {
      series.push({
        type: "scatter",
        xAxisIndex: i,
        yAxisIndex: i,
        silent: true,
        symbol: "circle",
        symbolSize: 5.2,
        itemStyle: { color: "rgba(0,0,0,0)", borderWidth: 2.8 },
        data: ringData(combBoldRings),
      });
    }
    // significant SNPs with annotations
    const notes = noteLayouts[i];
    const labels = panelNoteLabels[i];
    series.push({
      type: "scatter",
      xAxisIndex: i,
      yAxisIndex: i,
      silent: true,
      symbol: "circle",
      symbolSize: 8.8,
      itemStyle: { borderWidth: 0 },
      data: filledData(panelHits[i]),
      markLine: {
        silent: true,
        symbol: ["none", "arrow"],
        symbolSize: 7,
        label: { show: false },
        lineStyle: { color: "#4A8FD6", width: 1.5, type: "solid" },
        data: notes.map((n) => [{ coord: n.from }, { coord: n.to }]),
      },
      markPoint: {
        silent: true,
        symbol: "circle",
        symbolSize: 0,
        data: notes.map((n, k) => ({
          coord: n.text,
          label: {
            show: true,
            position: "left",
            distance: 0,
            formatter: labels[k],
            color: "#111",
            fontFamily: "'DejaVu Serif', 'Liberation Serif', serif",
            fontWeight: "bold",
            fontStyle: n.italic ? "italic" : "normal",
            fontSize: n.italic ? 12.5 : 13,
          },
        })),
      },
    });
  });

  return {
    animation: false,
    backgroundColor: "#fff",
    grid,
    xAxis,
    yAxis,
    series,
    graphic,
  };
}

export default function App() {
  const ref = useRef<HTMLDivElement>(null);
  useEffect(() => {
    if (!ref.current) return;
    const chart = echarts.init(ref.current, null, { renderer: "svg" });
    chart.setOption(buildOption() as any);
    return () => chart.dispose();
  }, []);
  return (
    <div style={{ position: "absolute", left: 0, top: 0, width: 1008, height: 969, overflow: "hidden", background: "#fff" }}>
      <div ref={ref} style={{ width: 1030, height: 969 }} />
    </div>
  );
}
